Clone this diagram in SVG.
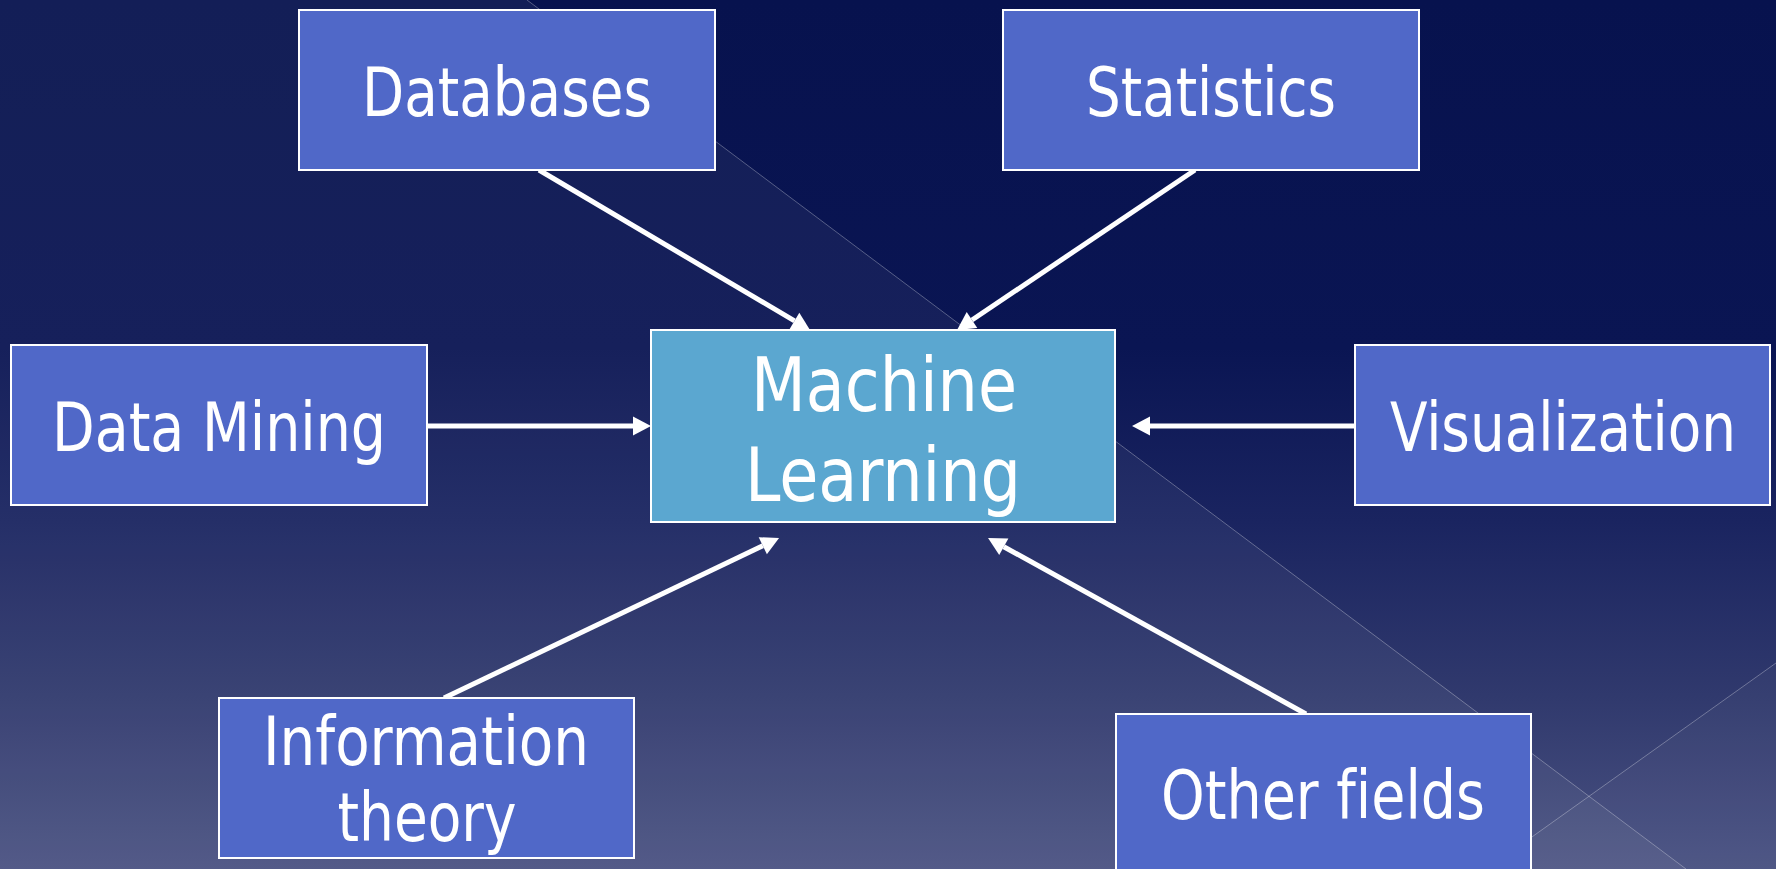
<svg xmlns="http://www.w3.org/2000/svg" width="1776" height="869" viewBox="0 0 1776 869">
  <defs>
    <linearGradient id="bg" x1="0" y1="0" x2="0" y2="1">
      <stop offset="0" stop-color="#07124e"/>
      <stop offset="0.4" stop-color="#0a1553"/>
      <stop offset="0.6" stop-color="#1a2460"/>
      <stop offset="0.8" stop-color="#30396d"/>
      <stop offset="1" stop-color="#4a5282"/>
    </linearGradient>
    <marker id="head" markerUnits="userSpaceOnUse" viewBox="0 -10 20 20" markerWidth="20" markerHeight="20" refX="0" refY="0" orient="auto" overflow="visible">
      <path d="M0,-9.5 L18,0 L0,9.5 z" fill="#ffffff"/>
    </marker>
    <style>
      .box { fill: #5068c8; stroke: #ffffff; stroke-width: 2; }
      .core { fill: #5ba7d0; stroke: #ffffff; stroke-width: 2; }
      .label { font-family: "DejaVu Sans Condensed", "DejaVu Sans", sans-serif; font-size: 67px; fill: #ffffff; text-anchor: middle; font-variant-ligatures: none; }
      .big { font-size: 75px; }
      .edge { stroke: #ffffff; stroke-width: 5; fill: none; marker-end: url(#head); }
      .rule { stroke: #ffffff; stroke-opacity: 0.3; stroke-width: 1; fill: none; }
    </style>
  </defs>

  <!-- backdrop -->
  <g id="backdrop">
    <rect x="0" y="0" width="1776" height="869" fill="url(#bg)"/>
    <polygon points="0,0 527,0 1686,869 0,869" fill="#ffffff" fill-opacity="0.05"/>
    <polygon points="1776,663 1776,869 1487,869" fill="#ffffff" fill-opacity="0.03"/>
    <line class="rule" x1="527" y1="0" x2="1686" y2="869"/>
    <line class="rule" x1="1776" y1="663" x2="1487" y2="869"/>
  </g>

  <!-- connectors -->
  <g id="connectors">
    <line class="edge" x1="539" y1="170" x2="794.5" y2="320.9"/>
    <line class="edge" x1="1195" y1="170" x2="972.0" y2="320.0"/>
    <line class="edge" x1="427" y1="426" x2="633" y2="426"/>
    <line class="edge" x1="1355" y1="426" x2="1150" y2="426"/>
    <line class="edge" x1="444" y1="698" x2="762.8" y2="545.8"/>
    <line class="edge" x1="1306" y1="714" x2="1003.8" y2="546.7"/>
  </g>

  <!-- nodes -->
  <g id="databases">
    <rect class="box" x="299" y="10" width="416" height="160"/>
    <text class="label" x="507" y="116" textLength="290" lengthAdjust="spacingAndGlyphs">Databases</text>
  </g>
  <g id="statistics">
    <rect class="box" x="1003" y="10" width="416" height="160"/>
    <text class="label" x="1211" y="116" textLength="250" lengthAdjust="spacingAndGlyphs">Statistics</text>
  </g>
  <g id="data-mining">
    <rect class="box" x="11" y="345" width="416" height="160"/>
    <text class="label" x="219" y="451" textLength="334" lengthAdjust="spacingAndGlyphs">Data Mining</text>
  </g>
  <g id="machine-learning">
    <rect class="core" x="651" y="330" width="464" height="192"/>
    <text class="label big" x="884" y="411" textLength="266" lengthAdjust="spacingAndGlyphs">Machine</text>
    <text class="label big" x="883" y="501" textLength="276" lengthAdjust="spacingAndGlyphs">Learning</text>
  </g>
  <g id="visualization">
    <rect class="box" x="1355" y="345" width="415" height="160"/>
    <text class="label" x="1563" y="451" textLength="346" lengthAdjust="spacingAndGlyphs">Visualization</text>
  </g>
  <g id="information-theory">
    <rect class="box" x="219" y="698" width="415" height="160"/>
    <text class="label" x="426" y="765" textLength="326" lengthAdjust="spacingAndGlyphs">Information</text>
    <text class="label" x="427" y="841" textLength="179" lengthAdjust="spacingAndGlyphs">theory</text>
  </g>
  <g id="other-fields">
    <rect class="box" x="1116" y="714" width="415" height="180"/>
    <text class="label" x="1323" y="819" textLength="324" lengthAdjust="spacingAndGlyphs">Other fields</text>
  </g>
</svg>
